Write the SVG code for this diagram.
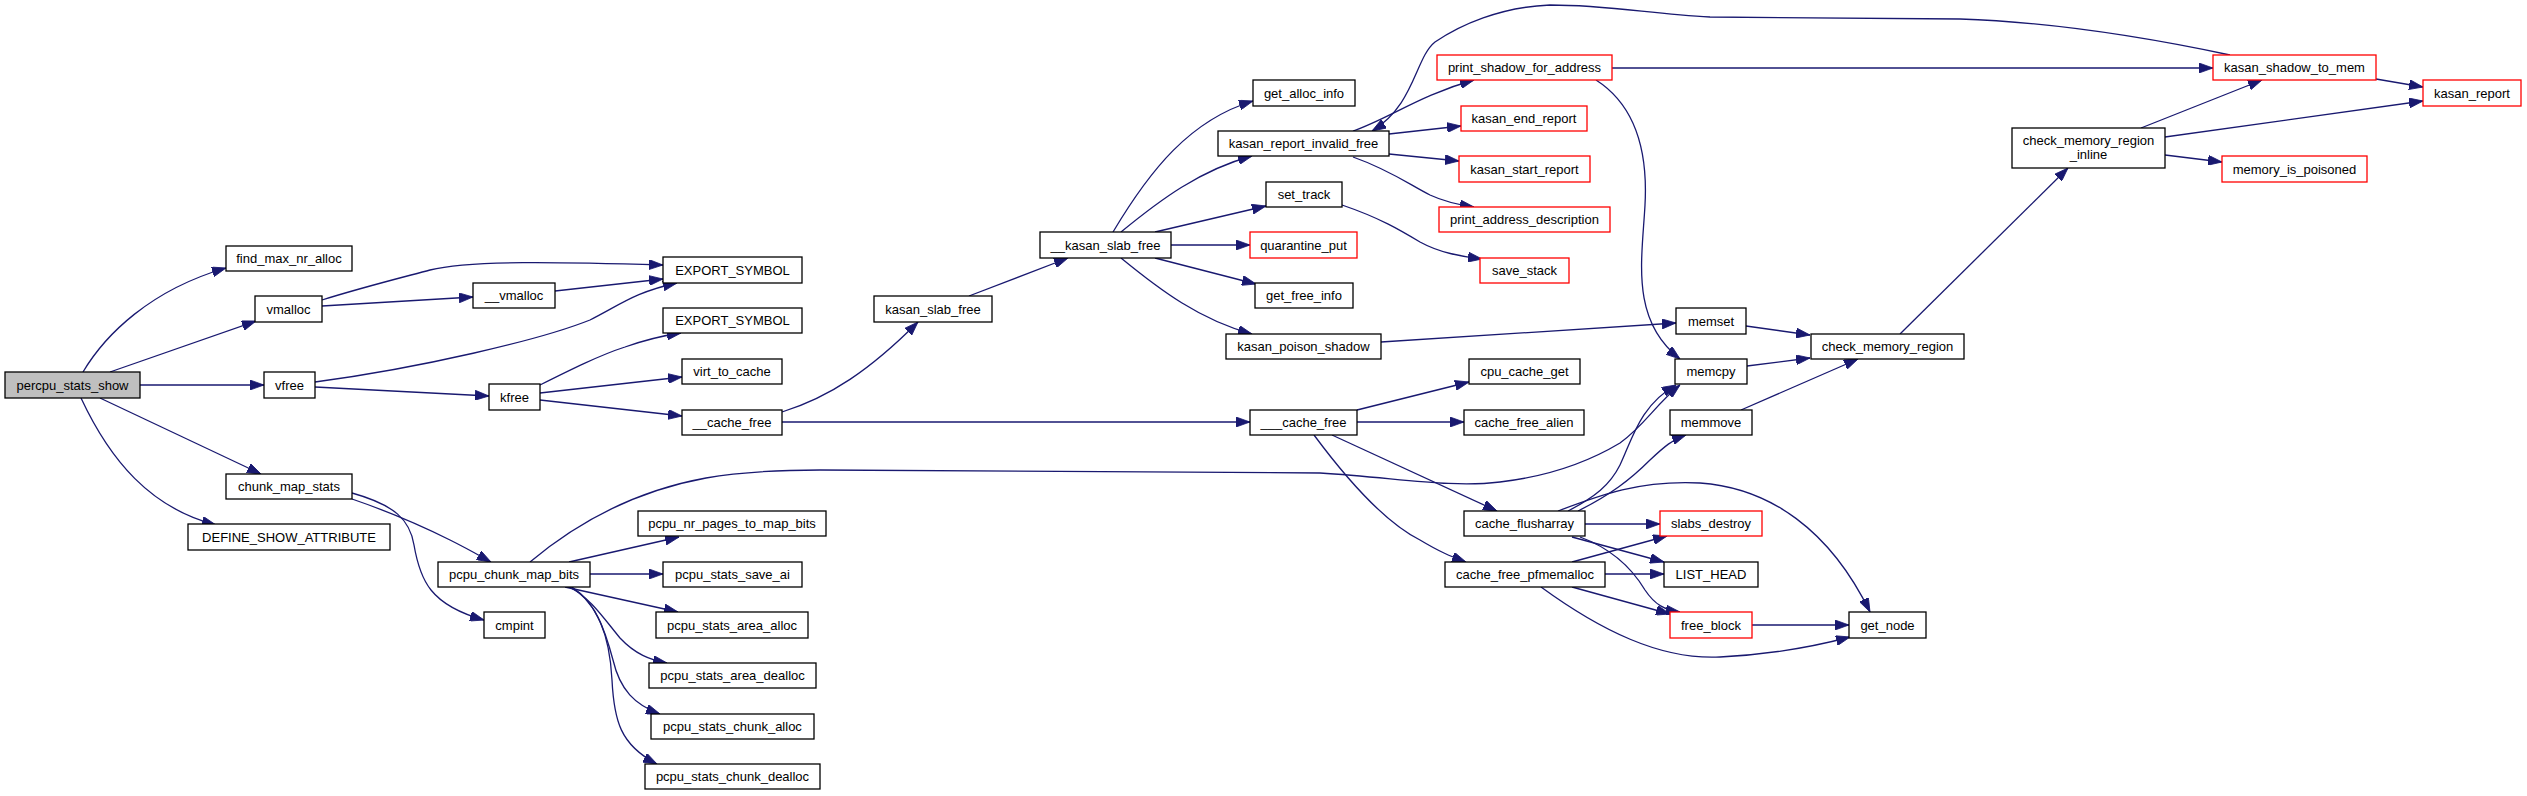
<svg xmlns="http://www.w3.org/2000/svg" width="2527" height="796" viewBox="0 0 2527 796">
<style>
.n rect{fill:#fff;stroke:#000;stroke-width:1.3}
.n.r rect{stroke:#ff0000}
.n.root rect{fill:#bfbfbf}
.n text{font-family:"Liberation Sans",Arial,Helvetica,sans-serif;font-size:13px;fill:#000;text-anchor:middle}
#edges path{fill:none;stroke:#191970;stroke-width:1.3;marker-end:url(#ah)}
</style>
<defs>
<marker id="ah" markerUnits="userSpaceOnUse" markerWidth="14" markerHeight="10" refX="14" refY="5" orient="auto">
<path d="M0,0 L14,5 L0,10 z" fill="#191970" stroke="#191970" stroke-width="0.8"/>
</marker>
</defs>
<rect width="2527" height="796" fill="#fff"/>
<g id="edges">
<path d="M83,372 C105,335 150,290 226,268"/>
<path d="M110,372 L256,321"/>
<path d="M140,385 L264,385"/>
<path d="M100,398 L261,474"/>
<path d="M81,398 C110,460 150,508 216,525"/>
<path d="M322,300 C360,288 400,278 430,270 C470,260 560,262 663,265"/>
<path d="M322,306 L473,297"/>
<path d="M555,291 L663,279"/>
<path d="M315,382 C420,368 540,340 590,320 C620,305 635,292 677,283"/>
<path d="M315,387 L489,396"/>
<path d="M540,385 C570,370 600,355 625,347 C645,340 660,336 681,333"/>
<path d="M540,393 L682,377"/>
<path d="M540,400 L682,416"/>
<path d="M782,412 C830,397 870,370 918,322"/>
<path d="M782,422 L1250,422"/>
<path d="M969,296 L1068,258"/>
<path d="M1113,232 C1150,170 1190,120 1253,101"/>
<path d="M1121,232 C1160,200 1200,170 1252,156"/>
<path d="M1155,232 L1266,206"/>
<path d="M1171,245 L1250,245"/>
<path d="M1155,258 L1256,284"/>
<path d="M1121,258 C1160,290 1200,320 1252,334"/>
<path d="M1353,131 C1390,118 1420,95 1474,80"/>
<path d="M2230,55 C2150,38 2050,22 1960,19 L1710,17 C1650,14 1610,5 1550,5 C1500,7 1460,25 1435,42 C1415,58 1415,105 1372,131"/>
<path d="M1389,134 L1461,126"/>
<path d="M1389,154 L1459,161"/>
<path d="M1353,157 C1390,170 1410,185 1430,195 C1445,202 1460,205 1474,207"/>
<path d="M1342,205 C1380,218 1400,230 1420,242 C1440,253 1460,256 1482,259"/>
<path d="M1612,68 L2213,68"/>
<path d="M1596,80 C1635,105 1648,150 1645,205 C1642,260 1630,320 1680,359"/>
<path d="M1381,342 L1676,323"/>
<path d="M1746,326 L1810,335"/>
<path d="M1747,366 L1810,358"/>
<path d="M1741,410 L1858,359"/>
<path d="M1900,334 L2068,168"/>
<path d="M2141,128 L2262,80"/>
<path d="M2165,137 L2423,101"/>
<path d="M2165,155 L2222,162"/>
<path d="M2376,79 L2423,87"/>
<path d="M1357,410 L1469,382"/>
<path d="M1357,422 L1464,422"/>
<path d="M1332,435 L1497,511"/>
<path d="M1314,435 C1340,470 1380,520 1420,540 C1440,552 1450,556 1466,562"/>
<path d="M530,562 C580,520 640,490 706,478 C740,472 780,470 820,470 L1320,473 C1400,478 1450,488 1500,482 C1560,475 1600,455 1620,443 C1645,425 1655,405 1680,385"/>
<path d="M352,499 C390,512 420,525 450,540 C470,550 480,556 491,562"/>
<path d="M352,493 C395,505 410,520 414,545 C420,580 430,605 484,620"/>
<path d="M569,562 L679,537"/>
<path d="M590,574 L663,574"/>
<path d="M565,587 L678,612"/>
<path d="M569,587 C590,597 605,620 620,638 C635,654 650,660 667,663"/>
<path d="M570,587 C595,600 605,630 613,660 C620,690 635,705 660,714"/>
<path d="M572,587 C600,605 610,640 612,680 C614,720 620,745 657,764"/>
<path d="M1568,511 C1595,497 1610,485 1620,465 C1632,440 1640,405 1676,385"/>
<path d="M1578,511 C1610,495 1630,480 1650,460 C1665,446 1672,440 1686,435"/>
<path d="M1558,511 C1600,495 1640,480 1700,483 C1770,488 1830,530 1870,612"/>
<path d="M1585,524 L1660,524"/>
<path d="M1572,537 L1664,562"/>
<path d="M1580,537 C1610,548 1630,565 1645,590 C1655,605 1665,610 1680,612"/>
<path d="M1572,562 L1667,536"/>
<path d="M1605,574 L1664,574"/>
<path d="M1572,587 L1670,614"/>
<path d="M1541,587 C1600,630 1660,660 1720,657 C1780,654 1820,645 1850,637"/>
<path d="M1752,625 L1849,625"/>
</g>
<g id="n_percpu_stats_show" class="n root"><rect x="5" y="372" width="135" height="26"/><text x="72.5" y="389.5">percpu_stats_show</text></g>
<g id="n_find_max_nr_alloc" class="n"><rect x="226" y="246" width="126" height="25"/><text x="289" y="263">find_max_nr_alloc</text></g>
<g id="n_vmalloc" class="n"><rect x="255" y="296" width="67" height="26"/><text x="288.5" y="313.5">vmalloc</text></g>
<g id="n___vmalloc" class="n"><rect x="473" y="283" width="82" height="25"/><text x="514" y="300">__vmalloc</text></g>
<g id="n_vfree" class="n"><rect x="264" y="372" width="51" height="26"/><text x="289.5" y="389.5">vfree</text></g>
<g id="n_kfree" class="n"><rect x="489" y="384" width="51" height="26"/><text x="514.5" y="401.5">kfree</text></g>
<g id="n_chunk_map_stats" class="n"><rect x="226" y="474" width="126" height="25"/><text x="289" y="491">chunk_map_stats</text></g>
<g id="n_DEFINE_SHOW_ATTRIBUTE" class="n"><rect x="188" y="524" width="202" height="26"/><text x="289" y="541.5">DEFINE_SHOW_ATTRIBUTE</text></g>
<g id="n_pcpu_chunk_map_bits" class="n"><rect x="438" y="562" width="152" height="25"/><text x="514" y="579">pcpu_chunk_map_bits</text></g>
<g id="n_EXPORT_SYMBOL_1" class="n"><rect x="663" y="257" width="139" height="26"/><text x="732.5" y="274.5">EXPORT_SYMBOL</text></g>
<g id="n_EXPORT_SYMBOL_2" class="n"><rect x="663" y="308" width="139" height="25"/><text x="732.5" y="325">EXPORT_SYMBOL</text></g>
<g id="n_virt_to_cache" class="n"><rect x="682" y="359" width="100" height="25"/><text x="732" y="376">virt_to_cache</text></g>
<g id="n___cache_free" class="n"><rect x="682" y="410" width="100" height="25"/><text x="732" y="427">__cache_free</text></g>
<g id="n_kasan_slab_free" class="n"><rect x="874" y="296" width="118" height="26"/><text x="933" y="313.5">kasan_slab_free</text></g>
<g id="n___kasan_slab_free" class="n"><rect x="1040" y="232" width="131" height="26"/><text x="1105.5" y="249.5">__kasan_slab_free</text></g>
<g id="n_pcpu_nr_pages_to_map_bits" class="n"><rect x="638" y="511" width="188" height="25"/><text x="732" y="528">pcpu_nr_pages_to_map_bits</text></g>
<g id="n_pcpu_stats_save_ai" class="n"><rect x="663" y="562" width="139" height="25"/><text x="732.5" y="579">pcpu_stats_save_ai</text></g>
<g id="n_cmpint" class="n"><rect x="484" y="612" width="61" height="26"/><text x="514.5" y="629.5">cmpint</text></g>
<g id="n_pcpu_stats_area_alloc" class="n"><rect x="656" y="612" width="152" height="26"/><text x="732" y="629.5">pcpu_stats_area_alloc</text></g>
<g id="n_pcpu_stats_area_dealloc" class="n"><rect x="649" y="663" width="167" height="25"/><text x="732.5" y="680">pcpu_stats_area_dealloc</text></g>
<g id="n_pcpu_stats_chunk_alloc" class="n"><rect x="651" y="714" width="163" height="25"/><text x="732.5" y="731">pcpu_stats_chunk_alloc</text></g>
<g id="n_pcpu_stats_chunk_dealloc" class="n"><rect x="645" y="764" width="175" height="25"/><text x="732.5" y="781">pcpu_stats_chunk_dealloc</text></g>
<g id="n_get_alloc_info" class="n"><rect x="1253" y="80" width="102" height="26"/><text x="1304" y="97.5">get_alloc_info</text></g>
<g id="n_kasan_report_invalid_free" class="n"><rect x="1218" y="131" width="171" height="25"/><text x="1303.5" y="148">kasan_report_invalid_free</text></g>
<g id="n_set_track" class="n"><rect x="1266" y="182" width="76" height="25"/><text x="1304" y="199">set_track</text></g>
<g id="n_quarantine_put" class="n r"><rect x="1250" y="232" width="107" height="26"/><text x="1303.5" y="249.5">quarantine_put</text></g>
<g id="n_get_free_info" class="n"><rect x="1255" y="283" width="98" height="25"/><text x="1304" y="300">get_free_info</text></g>
<g id="n_kasan_poison_shadow" class="n"><rect x="1226" y="334" width="155" height="25"/><text x="1303.5" y="351">kasan_poison_shadow</text></g>
<g id="n____cache_free" class="n"><rect x="1250" y="410" width="107" height="25"/><text x="1303.5" y="427">___cache_free</text></g>
<g id="n_print_shadow_for_address" class="n r"><rect x="1437" y="55" width="175" height="25"/><text x="1524.5" y="72">print_shadow_for_address</text></g>
<g id="n_kasan_end_report" class="n r"><rect x="1461" y="106" width="126" height="25"/><text x="1524" y="123">kasan_end_report</text></g>
<g id="n_kasan_start_report" class="n r"><rect x="1459" y="156" width="131" height="26"/><text x="1524.5" y="173.5">kasan_start_report</text></g>
<g id="n_print_address_description" class="n r"><rect x="1439" y="207" width="171" height="25"/><text x="1524.5" y="224">print_address_description</text></g>
<g id="n_save_stack" class="n r"><rect x="1480" y="258" width="89" height="25"/><text x="1524.5" y="275">save_stack</text></g>
<g id="n_memset" class="n"><rect x="1676" y="308" width="70" height="26"/><text x="1711" y="325.5">memset</text></g>
<g id="n_memcpy" class="n"><rect x="1675" y="359" width="72" height="25"/><text x="1711" y="376">memcpy</text></g>
<g id="n_cpu_cache_get" class="n"><rect x="1469" y="359" width="111" height="25"/><text x="1524.5" y="376">cpu_cache_get</text></g>
<g id="n_cache_free_alien" class="n"><rect x="1464" y="410" width="120" height="25"/><text x="1524" y="427">cache_free_alien</text></g>
<g id="n_memmove" class="n"><rect x="1670" y="410" width="82" height="25"/><text x="1711" y="427">memmove</text></g>
<g id="n_check_memory_region" class="n"><rect x="1811" y="334" width="153" height="25"/><text x="1887.5" y="351">check_memory_region</text></g>
<g id="n_cache_flusharray" class="n"><rect x="1464" y="511" width="121" height="25"/><text x="1524.5" y="528">cache_flusharray</text></g>
<g id="n_slabs_destroy" class="n r"><rect x="1660" y="511" width="102" height="25"/><text x="1711" y="528">slabs_destroy</text></g>
<g id="n_cache_free_pfmemalloc" class="n"><rect x="1445" y="562" width="160" height="25"/><text x="1525" y="579">cache_free_pfmemalloc</text></g>
<g id="n_LIST_HEAD" class="n"><rect x="1664" y="562" width="94" height="25"/><text x="1711" y="579">LIST_HEAD</text></g>
<g id="n_free_block" class="n r"><rect x="1670" y="612" width="82" height="26"/><text x="1711" y="629.5">free_block</text></g>
<g id="n_get_node" class="n"><rect x="1849" y="612" width="77" height="26"/><text x="1887.5" y="629.5">get_node</text></g>
<g id="n_kasan_shadow_to_mem" class="n r"><rect x="2213" y="55" width="163" height="25"/><text x="2294.5" y="72">kasan_shadow_to_mem</text></g>
<g id="n_kasan_report" class="n r"><rect x="2423" y="80" width="98" height="26"/><text x="2472" y="97.5">kasan_report</text></g>
<g id="n_check_memory_region_inline" class="n"><rect x="2012" y="128" width="153" height="40"/><text x="2088.5" y="145">check_memory_region</text><text x="2088.5" y="159">_inline</text></g>
<g id="n_memory_is_poisoned" class="n r"><rect x="2222" y="156" width="145" height="26"/><text x="2294.5" y="173.5">memory_is_poisoned</text></g>
</svg>
